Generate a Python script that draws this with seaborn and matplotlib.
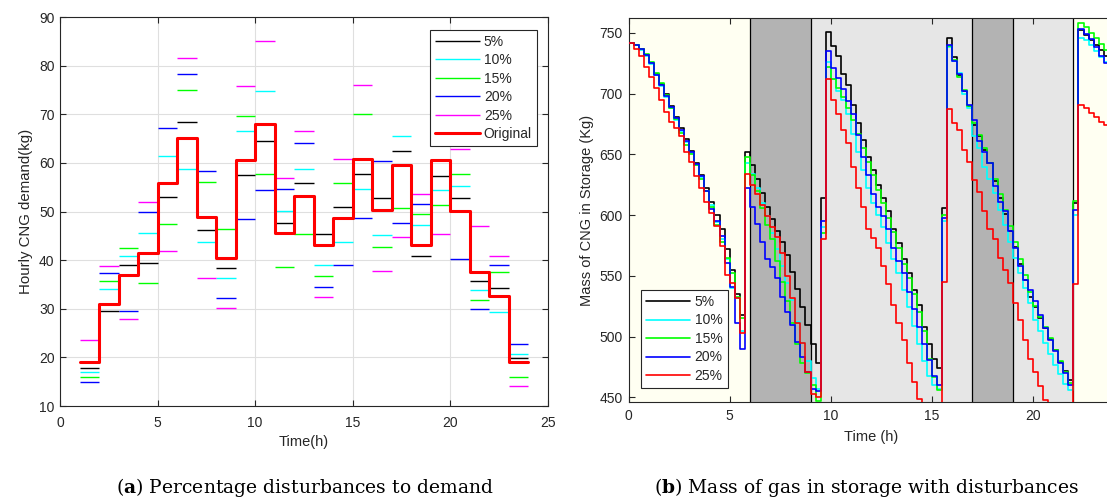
import numpy as np
import pandas as pd
import seaborn as sns
import matplotlib
matplotlib.use("Agg")
import matplotlib.pyplot as plt

# ---------------- data: panel (a) ----------------
hours = list(range(1, 24))
original = [19.0, 31.0, 37.0, 41.5, 55.9, 65.2, 48.8, 40.4, 60.5, 67.9, 45.5, 53.2,
            43.2, 48.6, 60.8, 50.4, 59.6, 43.1, 60.5, 50.1, 37.6, 32.6, 19.0]
d5 = [17.9, 29.5, 38.9, 39.4, 53.0, 68.5, 46.1, 38.3, 57.5, 64.5, 47.7, 55.9,
      45.4, 51.0, 57.7, 52.8, 62.5, 40.8, 57.4, 52.8, 35.7, 34.2, 19.85]
d10 = [16.95, 34.1, 40.8, 45.6, 61.5, 58.7, 43.7, 36.3, 66.6, 74.8, 50.1, 58.7,
       38.9, 43.7, 54.7, 45.2, 65.6, 47.2, 54.4, 55.3, 33.8, 29.3, 20.8]
d15 = [16.0, 35.7, 42.6, 35.3, 47.5, 75.0, 56.0, 46.4, 69.6, 57.8, 38.6, 45.3,
       36.7, 55.9, 70.0, 42.7, 50.8, 49.4, 51.3, 57.7, 31.9, 37.5, 16.0]
d20 = [15.0, 37.3, 29.6, 49.8, 67.1, 78.3, 58.4, 32.2, 48.4, 54.4, 54.7, 64.0,
       34.5, 38.9, 48.6, 60.4, 47.7, 51.6, 60.5, 40.3, 30.0, 39.1, 22.7]
d25 = [23.6, 38.85, 27.8, 51.9, 41.9, 81.6, 36.4, 30.2, 75.75, 85.0, 56.9, 66.6,
       32.4, 60.7, 76.0, 37.7, 44.8, 53.6, 45.3, 62.8, 47.0, 40.8, 14.2]
labels = ["5%", "10%", "15%", "20%", "25%"]
colors = ["#000000", "#00FFFF", "#00FF00", "#0000FF", "#FF00FF"]

# ---------------- data: panel (b), storage every 15 min ----------------
t_quarter = [i / 4 for i in range(97)]
s5 = [742, 740, 737, 732, 725, 716, 708, 700, 690, 681, 672, 663, 653, 643, 633, 622, 611, 600, 589, 572, 555, 535, 518,
      652,
      641, 630, 618, 607, 597, 587, 578, 567, 553, 539, 524, 510, 494, 478,
      614, 751,
      739, 731, 716, 707, 691, 676, 662, 648, 637, 625, 614, 603, 589, 577, 564, 552, 538, 526, 508, 494, 482, 474,
      606, 746,
      730, 715, 702, 690, 674, 665, 654, 643, 628, 614, 601, 587, 574, 560, 547, 533, 524, 515, 507, 498, 489, 479, 472, 464,
      610, 752,
      748, 744, 740, 736, 731, 727]
s10 = [742, 740, 736, 731, 724, 715, 706, 697, 688, 678, 669, 660, 651, 641, 631, 620, 608, 594, 580, 564, 540, 532, 505,
       643,
       634, 622, 610, 599, 585, 572, 558, 544, 530, 512, 495, 480, 466, 457,
       590, 726,
       712, 702, 695, 683, 667, 652, 637, 622, 610, 600, 590, 577, 564, 552, 538, 524, 509, 494, 480, 468, 460, 457,
       595, 738,
       727, 717, 700, 688, 665, 655, 640, 630, 618, 604, 592, 578, 565, 552, 540, 528, 514, 505, 495, 486, 477, 469, 461, 456,
       600, 746,
       744, 740, 735, 730, 726, 722]
s15 = [742, 740, 737, 733, 726, 717, 709, 699, 688, 679, 668, 658, 650, 641, 630, 620, 607, 592, 578, 565, 552, 533, 515,
       648,
       633, 620, 606, 592, 580, 562, 545, 529, 511, 494, 478, 470, 460, 447,
       585, 722,
       712, 705, 697, 688, 678, 667, 655, 644, 633, 621, 610, 598, 586, 573, 560, 548, 535, 520, 505, 482, 467, 456,
       600, 739,
       728, 714, 703, 690, 676, 666, 655, 643, 630, 617, 604, 591, 578, 564, 551, 537, 525, 516, 508, 499, 489, 480, 471, 462,
       612, 758,
       755, 750, 746, 741, 736, 732]
s20 = [742, 740, 737, 732, 725, 715, 707, 698, 689, 680, 670, 661, 652, 642, 632, 620, 605, 595, 583, 561, 541, 511, 490,
       622,
       607, 593, 578, 564, 557, 548, 533, 520, 510, 496, 483, 471, 457, 455,
       595, 735,
       721, 713, 704, 694, 683, 666, 648, 633, 617, 607, 599, 589, 573, 562, 552, 537, 523, 508, 494, 481, 468, 460,
       598, 740,
       727, 716, 702, 691, 678, 661, 652, 643, 624, 611, 603, 587, 573, 558, 547, 538, 529, 518, 507, 497, 488, 478, 470, 460,
       604, 753,
       749, 745, 738, 731, 725, 721]
s25 = [742, 737, 731, 722, 714, 705, 695, 685, 677, 672, 665, 652, 644, 632, 622, 611, 602, 591, 575, 551, 544, 532, 503,
       634,
       625, 617, 608, 599, 590, 582, 569, 550, 532, 511, 495, 471, 453, 450,
       580, 712,
       695, 683, 670, 659, 640, 622, 607, 589, 581, 573, 558, 543, 526, 511, 497, 478, 463, 449, 437, 425, 412, 400,
       545, 687,
       676, 670, 654, 644, 629, 619, 603, 589, 580, 565, 555, 544, 528, 514, 497, 482, 471, 459, 448, 436, 425, 414, 403, 392,
       543, 691,
       688, 684, 681, 677, 674, 671]
storage_colors = ["#000000", "#00FFFF", "#00FF00", "#0000FF", "#FF0000"]

# shaded periods (start, end, colour)
periods = [(0, 6, "#FFFFF2"), (6, 9, "#B3B3B3"), (9, 17, "#E6E6E6"),
           (17, 19, "#B3B3B3"), (19, 22, "#E6E6E6"), (22, 24, "#FFFFF2")]
boundaries = [6, 9, 17, 19, 22]

# ---------------- style ----------------
sns.set_theme(style="white")
plt.rcParams["font.family"] = ["Liberation Sans", "DejaVu Sans"]
plt.rcParams["mathtext.fontset"] = "custom"
plt.rcParams["mathtext.rm"] = "DejaVu Serif"
plt.rcParams["mathtext.bf"] = "DejaVu Serif:bold"
axcol = "#262626"

fig = plt.figure(figsize=(11.07, 4.98), dpi=100)
ax1 = fig.add_axes([0.0542, 0.1847, 0.4408, 0.7811])
ax2 = fig.add_axes([0.5678, 0.1922, 0.4384, 0.7711])

# ---------------- panel (a) ----------------
for vals, lab, col in zip([d5, d10, d15, d20, d25], labels, colors):
    ax1.hlines(vals, xmin=hours, xmax=[h + 1 for h in hours], colors=col,
               linewidth=1.0, label=lab, zorder=3)
orig_df = pd.DataFrame({"h": hours + [24], "v": original + [original[-1]]})
sns.lineplot(data=orig_df, x="h", y="v", color="#FF0000", linewidth=2.2,
             drawstyle="steps-post", estimator=None, sort=False, ax=ax1,
             label="Original", zorder=4)
ax1.set_xlim(0, 25)
ax1.set_ylim(10, 90)
ax1.set_xticks(range(0, 26, 5))
ax1.set_yticks(range(10, 91, 10))
ax1.grid(True, color="#DFDFDF", linewidth=0.8)
ax1.set_axisbelow(True)
ax1.set_xlabel("Time(h)", fontsize=10.5, color=axcol, labelpad=4)
ax1.set_ylabel("Hourly CNG demand(kg)", fontsize=10.8, color=axcol, labelpad=4)
leg1 = ax1.legend(loc="upper right", bbox_to_anchor=(0.977, 0.967), fontsize=10,
                  frameon=True, fancybox=False, edgecolor=axcol, framealpha=1,
                  handlelength=3.2, labelspacing=0.32, borderpad=0.35,
                  handletextpad=0.3, borderaxespad=0)
leg1.get_frame().set_linewidth(0.8)

# ---------------- panel (b) ----------------
for a, b, c in periods:
    ax2.axvspan(a, b, color=c, zorder=0, linewidth=0)
for x in boundaries:
    ax2.axvline(x, color="#000000", linewidth=0.9, zorder=1)
for vals, lab, col in zip([s5, s10, s15, s20, s25], labels, storage_colors):
    df = pd.DataFrame({"t": t_quarter, "m": vals + [vals[-1]]})
    sns.lineplot(data=df, x="t", y="m", color=col, linewidth=1.2,
                 drawstyle="steps-post", estimator=None, sort=False, ax=ax2,
                 label=lab, zorder=3)
ax2.set_xlim(0, 24)
ax2.set_ylim(446, 762)
ax2.set_xticks([0, 5, 10, 15, 20])
ax2.set_yticks(range(450, 751, 50))
ax2.set_xlabel("Time (h)", fontsize=10.5, color=axcol, labelpad=5)
ax2.set_ylabel("Mass of CNG in Storage (Kg)", fontsize=10.5, color=axcol, labelpad=4)
leg2 = ax2.legend(loc="lower left", bbox_to_anchor=(0.026, 0.038), fontsize=10,
                  frameon=True, fancybox=False, edgecolor=axcol, framealpha=1,
                  facecolor="white", handlelength=3.2, labelspacing=0.32,
                  borderpad=0.35, handletextpad=0.3, borderaxespad=0)
leg2.get_frame().set_linewidth(0.8)

for ax in (ax1, ax2):
    for sp in ax.spines.values():
        sp.set_color(axcol)
        sp.set_linewidth(0.8)
    ax.tick_params(direction="in", length=4, width=0.8, colors=axcol,
                   labelsize=10, top=True, right=True, bottom=True, left=True,
                   labelcolor=axcol, pad=4)
ax1.tick_params(axis="x", pad=7)
ax2.tick_params(axis="x", pad=5)

fig.text(305 / 1107, 1 - 487 / 498, r"($\mathbf{a}$) Percentage disturbances to demand",
         ha="center", va="center", fontsize=13.5, family="DejaVu Serif", color="#000000")
fig.text(867 / 1107, 1 - 487 / 498, r"($\mathbf{b}$) Mass of gas in storage with disturbances",
         ha="center", va="center", fontsize=13.5, family="DejaVu Serif", color="#000000")

fig.savefig("out.png", dpi=100)
